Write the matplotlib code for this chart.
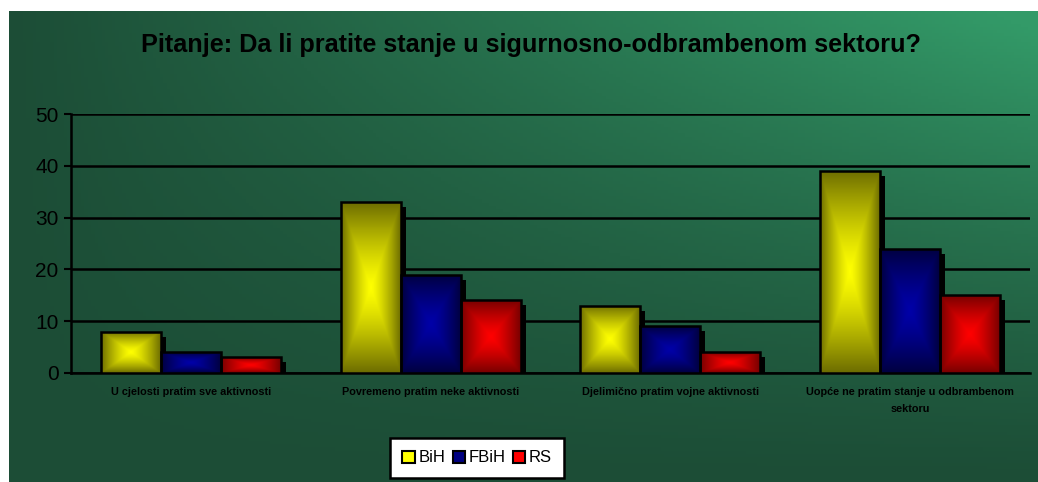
import numpy as np
import matplotlib.pyplot as plt
from matplotlib.patches import Rectangle, Patch
from matplotlib.colors import to_rgb

# chart data
categories = ['U cjelosti pratim sve aktivnosti',
              'Povremeno pratim neke aktivnosti',
              'Djelimično pratim vojne aktivnosti',
              'Uopće ne pratim stanje u odbrambenom\nsektoru']
series = ['BiH', 'FBiH', 'RS']
bih = [8, 33, 13, 39]
fbih = [4, 19, 9, 24]
rs = [3, 14, 4, 15]
values = [bih, fbih, rs]

# bright centre / dark edge for each series
centre_colors = ['#ffff00', '#0000a8', '#ff0000']
edge_colors = ['#6e6e00', '#000040', '#780000']
legend_colors = ['#ffff00', '#000080', '#ff0000']

plt.rcParams['font.family'] = ['Liberation Sans', 'DejaVu Sans']

W, H = 1038, 482
fig = plt.figure(figsize=(W / 100, H / 100), dpi=100)

# green gradient background (white strip at top and left)
bg = fig.add_axes([9 / W, 0, 1 - 9 / W, (H - 11) / H], zorder=-5)
gx, gy = np.meshgrid(np.linspace(0, 1, 300), np.linspace(0, 1, 150))
t = np.clip(gx * (1 - gy) ** 1.2 * 1.05, 0, 1)
dark = np.array(to_rgb('#1c4d36'))
light = np.array(to_rgb('#339a68'))
img = dark + (light - dark) * t[..., None]
bg.imshow(img, extent=[0, 1, 0, 1], aspect='auto', origin='upper')
bg.set_axis_off()

ax = fig.add_axes([71 / W, 109 / H, (1030 - 71) / W, 259 / H])
ax.patch.set_alpha(0)
n = len(categories)
ax.set_xlim(0, n)
ax.set_ylim(0, 50)
ax.set_yticks(range(0, 51, 10))
ax.tick_params(axis='y', labelsize=15, length=5, width=1.5, color='black', pad=4)
ax.tick_params(axis='x', length=0, pad=10)
ax.set_xticks([i + 0.5 for i in range(n)])
ax.set_xticklabels(categories, fontsize=7.8, fontweight='bold', linespacing=1.9,
                   va='top')
for s in ['top', 'right']:
    ax.spines[s].set_visible(False)
for s in ['left', 'bottom']:
    ax.spines[s].set_linewidth(1.8)
ax.yaxis.grid(True, color='black', linewidth=1.8, zorder=0)
ax.set_axisbelow(True)

bar_w = 0.25
dx = 5 / 240
dy = 5 / 5.18
uu, vv = np.meshgrid(np.linspace(-1, 1, 80), np.linspace(-1, 1, 80))
pyr = np.maximum(np.abs(uu), np.abs(vv)) ** 1.3

for i in range(n):
    for j, vals in enumerate(values):
        x0 = i + 0.5 - 1.5 * bar_w + j * bar_w
        h = vals[i]
        # drop shadow
        ax.add_patch(Rectangle((x0 + dx, 0), bar_w, max(h - dy, 0),
                               facecolor='black', edgecolor='none', zorder=2))
        c1 = np.array(to_rgb(centre_colors[j]))
        c2 = np.array(to_rgb(edge_colors[j]))
        fill = c1 + (c2 - c1) * pyr[..., None]
        rect = Rectangle((x0, 0), bar_w, h, facecolor='none', edgecolor='black',
                         linewidth=1.8, zorder=4)
        ax.add_patch(rect)
        im = ax.imshow(fill, extent=[x0, x0 + bar_w, 0, h], aspect='auto',
                       zorder=3, interpolation='bilinear')
        im.set_clip_path(rect)

ax.set_xlim(0, n)
ax.set_ylim(0, 50)

fig.text(531 / W, 1 - 45 / H, 'Pitanje: Da li pratite stanje u sigurnosno-odbrambenom sektoru?',
         ha='center', va='center', fontsize=18.2, fontweight='bold')

handles = [Patch(facecolor=c, edgecolor='black', linewidth=1.5) for c in legend_colors]
leg = fig.legend(handles, series, loc='center', bbox_to_anchor=(477 / W, 1 - 458 / H),
                 ncol=3, fontsize=12, frameon=True, fancybox=False,
                 handlelength=0.75, handleheight=0.75, handletextpad=0.2,
                 columnspacing=0.45, borderpad=0.75, borderaxespad=0)
leg.get_frame().set_edgecolor('black')
leg.get_frame().set_linewidth(1.8)
leg.get_frame().set_facecolor('white')
leg.get_frame().set_alpha(1)

fig.savefig('out.png', dpi=100)
